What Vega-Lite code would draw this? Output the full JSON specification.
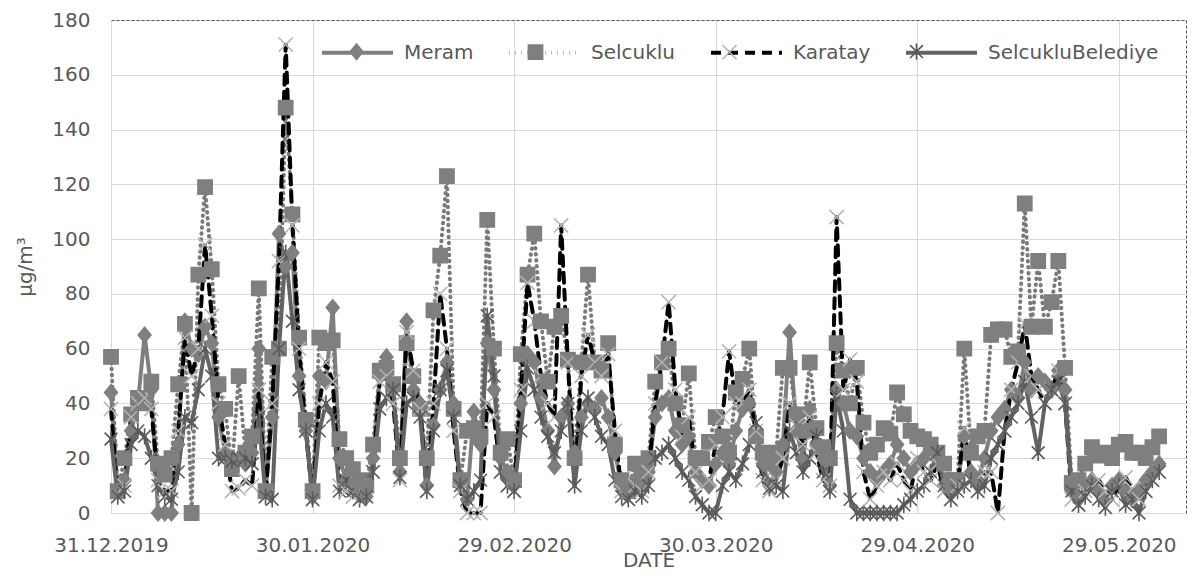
{
"$schema": "https://vega.github.io/schema/vega-lite/v6.json",
"width": 1075, "height": 493,
"autosize": {"type": "none"},
"padding": {"left": 111, "top": 20, "right": 10, "bottom": 60},
"background": "white",
"config": {
  "view": {"stroke": null},
  "font": "DejaVu Sans",
  "axis": {"labelFont": "DejaVu Sans", "labelFontSize": 20, "labelColor": "#595959", "titleFont": "DejaVu Sans", "titleFontSize": 20, "titleColor": "#595959", "titleFontWeight": "normal", "ticks": false, "gridColor": "#d9d9d9", "domainColor": "#d9d9d9", "labelFlush": false, "labelOverlap": false}
},
"data": {"values": [
{"date":"2019-12-31","Meram":44,"Selcuklu":57,"Karatay":38,"SelcukluBelediye":27},
{"date":"2020-01-01","Meram":8,"Selcuklu":8,"Karatay":6,"SelcukluBelediye":6},
{"date":"2020-01-02","Meram":12,"Selcuklu":20,"Karatay":10,"SelcukluBelediye":8},
{"date":"2020-01-03","Meram":30,"Selcuklu":36,"Karatay":35,"SelcukluBelediye":25},
{"date":"2020-01-04","Meram":40,"Selcuklu":42,"Karatay":40,"SelcukluBelediye":30},
{"date":"2020-01-05","Meram":65,"Selcuklu":40,"Karatay":42,"SelcukluBelediye":28},
{"date":"2020-01-06","Meram":45,"Selcuklu":48,"Karatay":38,"SelcukluBelediye":20},
{"date":"2020-01-07","Meram":0,"Selcuklu":18,"Karatay":12,"SelcukluBelediye":10},
{"date":"2020-01-08","Meram":0,"Selcuklu":14,"Karatay":8,"SelcukluBelediye":6},
{"date":"2020-01-09","Meram":0,"Selcuklu":20,"Karatay":8,"SelcukluBelediye":5},
{"date":"2020-01-10","Meram":25,"Selcuklu":47,"Karatay":30,"SelcukluBelediye":15},
{"date":"2020-01-11","Meram":70,"Selcuklu":69,"Karatay":64,"SelcukluBelediye":35},
{"date":"2020-01-12","Meram":60,"Selcuklu":0,"Karatay":50,"SelcukluBelediye":33},
{"date":"2020-01-13","Meram":58,"Selcuklu":87,"Karatay":60,"SelcukluBelediye":45},
{"date":"2020-01-14","Meram":68,"Selcuklu":119,"Karatay":98,"SelcukluBelediye":60},
{"date":"2020-01-15","Meram":62,"Selcuklu":89,"Karatay":72,"SelcukluBelediye":50},
{"date":"2020-01-16","Meram":35,"Selcuklu":47,"Karatay":40,"SelcukluBelediye":20},
{"date":"2020-01-17","Meram":22,"Selcuklu":38,"Karatay":25,"SelcukluBelediye":20},
{"date":"2020-01-18","Meram":20,"Selcuklu":16,"Karatay":8,"SelcukluBelediye":19},
{"date":"2020-01-19","Meram":20,"Selcuklu":50,"Karatay":9,"SelcukluBelediye":20},
{"date":"2020-01-20","Meram":18,"Selcuklu":22,"Karatay":12,"SelcukluBelediye":20},
{"date":"2020-01-21","Meram":22,"Selcuklu":28,"Karatay":10,"SelcukluBelediye":18},
{"date":"2020-01-22","Meram":60,"Selcuklu":82,"Karatay":45,"SelcukluBelediye":35},
{"date":"2020-01-23","Meram":8,"Selcuklu":8,"Karatay":6,"SelcukluBelediye":6},
{"date":"2020-01-24","Meram":35,"Selcuklu":57,"Karatay":40,"SelcukluBelediye":5},
{"date":"2020-01-25","Meram":102,"Selcuklu":60,"Karatay":92,"SelcukluBelediye":60},
{"date":"2020-01-26","Meram":90,"Selcuklu":148,"Karatay":171,"SelcukluBelediye":95},
{"date":"2020-01-27","Meram":95,"Selcuklu":109,"Karatay":105,"SelcukluBelediye":70},
{"date":"2020-01-28","Meram":50,"Selcuklu":64,"Karatay":60,"SelcukluBelediye":45},
{"date":"2020-01-29","Meram":30,"Selcuklu":34,"Karatay":30,"SelcukluBelediye":30},
{"date":"2020-01-30","Meram":6,"Selcuklu":8,"Karatay":5,"SelcukluBelediye":5},
{"date":"2020-01-31","Meram":50,"Selcuklu":64,"Karatay":40,"SelcukluBelediye":30},
{"date":"2020-02-01","Meram":48,"Selcuklu":62,"Karatay":55,"SelcukluBelediye":40},
{"date":"2020-02-02","Meram":75,"Selcuklu":63,"Karatay":48,"SelcukluBelediye":35},
{"date":"2020-02-03","Meram":20,"Selcuklu":27,"Karatay":10,"SelcukluBelediye":8},
{"date":"2020-02-04","Meram":12,"Selcuklu":20,"Karatay":8,"SelcukluBelediye":12},
{"date":"2020-02-05","Meram":10,"Selcuklu":16,"Karatay":6,"SelcukluBelediye":8},
{"date":"2020-02-06","Meram":8,"Selcuklu":12,"Karatay":5,"SelcukluBelediye":5},
{"date":"2020-02-07","Meram":6,"Selcuklu":10,"Karatay":6,"SelcukluBelediye":6},
{"date":"2020-02-08","Meram":20,"Selcuklu":25,"Karatay":15,"SelcukluBelediye":15},
{"date":"2020-02-09","Meram":50,"Selcuklu":52,"Karatay":48,"SelcukluBelediye":38},
{"date":"2020-02-10","Meram":57,"Selcuklu":53,"Karatay":50,"SelcukluBelediye":42},
{"date":"2020-02-11","Meram":45,"Selcuklu":47,"Karatay":40,"SelcukluBelediye":45},
{"date":"2020-02-12","Meram":15,"Selcuklu":20,"Karatay":12,"SelcukluBelediye":13},
{"date":"2020-02-13","Meram":70,"Selcuklu":62,"Karatay":66,"SelcukluBelediye":40},
{"date":"2020-02-14","Meram":45,"Selcuklu":50,"Karatay":52,"SelcukluBelediye":42},
{"date":"2020-02-15","Meram":40,"Selcuklu":38,"Karatay":38,"SelcukluBelediye":35},
{"date":"2020-02-16","Meram":10,"Selcuklu":20,"Karatay":8,"SelcukluBelediye":8},
{"date":"2020-02-17","Meram":32,"Selcuklu":74,"Karatay":40,"SelcukluBelediye":30},
{"date":"2020-02-18","Meram":45,"Selcuklu":94,"Karatay":80,"SelcukluBelediye":45},
{"date":"2020-02-19","Meram":55,"Selcuklu":123,"Karatay":60,"SelcukluBelediye":52},
{"date":"2020-02-20","Meram":40,"Selcuklu":38,"Karatay":30,"SelcukluBelediye":35},
{"date":"2020-02-21","Meram":10,"Selcuklu":12,"Karatay":8,"SelcukluBelediye":10},
{"date":"2020-02-22","Meram":5,"Selcuklu":30,"Karatay":0,"SelcukluBelediye":5},
{"date":"2020-02-23","Meram":37,"Selcuklu":31,"Karatay":0,"SelcukluBelediye":8},
{"date":"2020-02-24","Meram":25,"Selcuklu":28,"Karatay":0,"SelcukluBelediye":12},
{"date":"2020-02-25","Meram":62,"Selcuklu":107,"Karatay":40,"SelcukluBelediye":72},
{"date":"2020-02-26","Meram":45,"Selcuklu":60,"Karatay":35,"SelcukluBelediye":50},
{"date":"2020-02-27","Meram":20,"Selcuklu":22,"Karatay":15,"SelcukluBelediye":15},
{"date":"2020-02-28","Meram":15,"Selcuklu":27,"Karatay":10,"SelcukluBelediye":10},
{"date":"2020-02-29","Meram":10,"Selcuklu":12,"Karatay":8,"SelcukluBelediye":8},
{"date":"2020-03-01","Meram":40,"Selcuklu":58,"Karatay":45,"SelcukluBelediye":30},
{"date":"2020-03-02","Meram":58,"Selcuklu":87,"Karatay":84,"SelcukluBelediye":53},
{"date":"2020-03-03","Meram":55,"Selcuklu":102,"Karatay":70,"SelcukluBelediye":45},
{"date":"2020-03-04","Meram":42,"Selcuklu":70,"Karatay":50,"SelcukluBelediye":35},
{"date":"2020-03-05","Meram":30,"Selcuklu":48,"Karatay":40,"SelcukluBelediye":28},
{"date":"2020-03-06","Meram":17,"Selcuklu":68,"Karatay":35,"SelcukluBelediye":22},
{"date":"2020-03-07","Meram":35,"Selcuklu":72,"Karatay":105,"SelcukluBelediye":30},
{"date":"2020-03-08","Meram":40,"Selcuklu":56,"Karatay":55,"SelcukluBelediye":40},
{"date":"2020-03-09","Meram":22,"Selcuklu":20,"Karatay":10,"SelcukluBelediye":10},
{"date":"2020-03-10","Meram":35,"Selcuklu":55,"Karatay":50,"SelcukluBelediye":30},
{"date":"2020-03-11","Meram":40,"Selcuklu":87,"Karatay":65,"SelcukluBelediye":42},
{"date":"2020-03-12","Meram":38,"Selcuklu":55,"Karatay":55,"SelcukluBelediye":35},
{"date":"2020-03-13","Meram":42,"Selcuklu":52,"Karatay":50,"SelcukluBelediye":28},
{"date":"2020-03-14","Meram":35,"Selcuklu":62,"Karatay":58,"SelcukluBelediye":25},
{"date":"2020-03-15","Meram":22,"Selcuklu":25,"Karatay":30,"SelcukluBelediye":12},
{"date":"2020-03-16","Meram":10,"Selcuklu":12,"Karatay":8,"SelcukluBelediye":6},
{"date":"2020-03-17","Meram":8,"Selcuklu":8,"Karatay":5,"SelcukluBelediye":5},
{"date":"2020-03-18","Meram":12,"Selcuklu":18,"Karatay":10,"SelcukluBelediye":8},
{"date":"2020-03-19","Meram":10,"Selcuklu":14,"Karatay":8,"SelcukluBelediye":6},
{"date":"2020-03-20","Meram":15,"Selcuklu":20,"Karatay":15,"SelcukluBelediye":10},
{"date":"2020-03-21","Meram":35,"Selcuklu":48,"Karatay":40,"SelcukluBelediye":20},
{"date":"2020-03-22","Meram":40,"Selcuklu":55,"Karatay":55,"SelcukluBelediye":22},
{"date":"2020-03-23","Meram":42,"Selcuklu":60,"Karatay":77,"SelcukluBelediye":25},
{"date":"2020-03-24","Meram":30,"Selcuklu":40,"Karatay":45,"SelcukluBelediye":20},
{"date":"2020-03-25","Meram":25,"Selcuklu":32,"Karatay":28,"SelcukluBelediye":15},
{"date":"2020-03-26","Meram":28,"Selcuklu":51,"Karatay":35,"SelcukluBelediye":12},
{"date":"2020-03-27","Meram":15,"Selcuklu":20,"Karatay":15,"SelcukluBelediye":6},
{"date":"2020-03-28","Meram":12,"Selcuklu":20,"Karatay":10,"SelcukluBelediye":3},
{"date":"2020-03-29","Meram":10,"Selcuklu":26,"Karatay":12,"SelcukluBelediye":0},
{"date":"2020-03-30","Meram":18,"Selcuklu":35,"Karatay":25,"SelcukluBelediye":0},
{"date":"2020-03-31","Meram":22,"Selcuklu":28,"Karatay":35,"SelcukluBelediye":10},
{"date":"2020-04-01","Meram":18,"Selcuklu":22,"Karatay":59,"SelcukluBelediye":15},
{"date":"2020-04-02","Meram":30,"Selcuklu":44,"Karatay":40,"SelcukluBelediye":12},
{"date":"2020-04-03","Meram":38,"Selcuklu":49,"Karatay":40,"SelcukluBelediye":18},
{"date":"2020-04-04","Meram":40,"Selcuklu":60,"Karatay":45,"SelcukluBelediye":25},
{"date":"2020-04-05","Meram":30,"Selcuklu":28,"Karatay":30,"SelcukluBelediye":33},
{"date":"2020-04-06","Meram":18,"Selcuklu":22,"Karatay":12,"SelcukluBelediye":15},
{"date":"2020-04-07","Meram":10,"Selcuklu":18,"Karatay":8,"SelcukluBelediye":9},
{"date":"2020-04-08","Meram":15,"Selcuklu":22,"Karatay":12,"SelcukluBelediye":10},
{"date":"2020-04-09","Meram":25,"Selcuklu":53,"Karatay":20,"SelcukluBelediye":8},
{"date":"2020-04-10","Meram":66,"Selcuklu":53,"Karatay":40,"SelcukluBelediye":30},
{"date":"2020-04-11","Meram":30,"Selcuklu":36,"Karatay":32,"SelcukluBelediye":22},
{"date":"2020-04-12","Meram":20,"Selcuklu":30,"Karatay":25,"SelcukluBelediye":15},
{"date":"2020-04-13","Meram":38,"Selcuklu":55,"Karatay":35,"SelcukluBelediye":20},
{"date":"2020-04-14","Meram":25,"Selcuklu":31,"Karatay":22,"SelcukluBelediye":28},
{"date":"2020-04-15","Meram":20,"Selcuklu":24,"Karatay":12,"SelcukluBelediye":15},
{"date":"2020-04-16","Meram":10,"Selcuklu":20,"Karatay":10,"SelcukluBelediye":8},
{"date":"2020-04-17","Meram":45,"Selcuklu":62,"Karatay":108,"SelcukluBelediye":43},
{"date":"2020-04-18","Meram":40,"Selcuklu":52,"Karatay":45,"SelcukluBelediye":30},
{"date":"2020-04-19","Meram":30,"Selcuklu":40,"Karatay":56,"SelcukluBelediye":5},
{"date":"2020-04-20","Meram":28,"Selcuklu":53,"Karatay":48,"SelcukluBelediye":0},
{"date":"2020-04-21","Meram":20,"Selcuklu":33,"Karatay":15,"SelcukluBelediye":0},
{"date":"2020-04-22","Meram":15,"Selcuklu":22,"Karatay":5,"SelcukluBelediye":0},
{"date":"2020-04-23","Meram":12,"Selcuklu":25,"Karatay":10,"SelcukluBelediye":0},
{"date":"2020-04-24","Meram":15,"Selcuklu":31,"Karatay":15,"SelcukluBelediye":0},
{"date":"2020-04-25","Meram":18,"Selcuklu":29,"Karatay":12,"SelcukluBelediye":0},
{"date":"2020-04-26","Meram":25,"Selcuklu":44,"Karatay":18,"SelcukluBelediye":0},
{"date":"2020-04-27","Meram":20,"Selcuklu":36,"Karatay":12,"SelcukluBelediye":3},
{"date":"2020-04-28","Meram":15,"Selcuklu":30,"Karatay":8,"SelcukluBelediye":5},
{"date":"2020-04-29","Meram":18,"Selcuklu":28,"Karatay":20,"SelcukluBelediye":8},
{"date":"2020-04-30","Meram":20,"Selcuklu":27,"Karatay":15,"SelcukluBelediye":10},
{"date":"2020-05-01","Meram":22,"Selcuklu":25,"Karatay":12,"SelcukluBelediye":15},
{"date":"2020-05-02","Meram":20,"Selcuklu":22,"Karatay":18,"SelcukluBelediye":22},
{"date":"2020-05-03","Meram":10,"Selcuklu":18,"Karatay":8,"SelcukluBelediye":10},
{"date":"2020-05-04","Meram":8,"Selcuklu":12,"Karatay":5,"SelcukluBelediye":5},
{"date":"2020-05-05","Meram":10,"Selcuklu":12,"Karatay":10,"SelcukluBelediye":8},
{"date":"2020-05-06","Meram":28,"Selcuklu":60,"Karatay":31,"SelcukluBelediye":10},
{"date":"2020-05-07","Meram":15,"Selcuklu":22,"Karatay":12,"SelcukluBelediye":12},
{"date":"2020-05-08","Meram":12,"Selcuklu":28,"Karatay":8,"SelcukluBelediye":8},
{"date":"2020-05-09","Meram":20,"Selcuklu":30,"Karatay":15,"SelcukluBelediye":10},
{"date":"2020-05-10","Meram":30,"Selcuklu":65,"Karatay":15,"SelcukluBelediye":20},
{"date":"2020-05-11","Meram":35,"Selcuklu":67,"Karatay":0,"SelcukluBelediye":25},
{"date":"2020-05-12","Meram":38,"Selcuklu":67,"Karatay":30,"SelcukluBelediye":30},
{"date":"2020-05-13","Meram":45,"Selcuklu":57,"Karatay":45,"SelcukluBelediye":35},
{"date":"2020-05-14","Meram":42,"Selcuklu":59,"Karatay":55,"SelcukluBelediye":40},
{"date":"2020-05-15","Meram":55,"Selcuklu":113,"Karatay":69,"SelcukluBelediye":48},
{"date":"2020-05-16","Meram":45,"Selcuklu":68,"Karatay":50,"SelcukluBelediye":35},
{"date":"2020-05-17","Meram":50,"Selcuklu":92,"Karatay":45,"SelcukluBelediye":22},
{"date":"2020-05-18","Meram":48,"Selcuklu":68,"Karatay":40,"SelcukluBelediye":40},
{"date":"2020-05-19","Meram":45,"Selcuklu":77,"Karatay":45,"SelcukluBelediye":45},
{"date":"2020-05-20","Meram":52,"Selcuklu":92,"Karatay":52,"SelcukluBelediye":48},
{"date":"2020-05-21","Meram":45,"Selcuklu":53,"Karatay":40,"SelcukluBelediye":40},
{"date":"2020-05-22","Meram":8,"Selcuklu":11,"Karatay":5,"SelcukluBelediye":8},
{"date":"2020-05-23","Meram":5,"Selcuklu":12,"Karatay":3,"SelcukluBelediye":3},
{"date":"2020-05-24","Meram":10,"Selcuklu":18,"Karatay":8,"SelcukluBelediye":6},
{"date":"2020-05-25","Meram":12,"Selcuklu":24,"Karatay":10,"SelcukluBelediye":10},
{"date":"2020-05-26","Meram":8,"Selcuklu":21,"Karatay":12,"SelcukluBelediye":5},
{"date":"2020-05-27","Meram":5,"Selcuklu":22,"Karatay":8,"SelcukluBelediye":2},
{"date":"2020-05-28","Meram":10,"Selcuklu":20,"Karatay":5,"SelcukluBelediye":8},
{"date":"2020-05-29","Meram":12,"Selcuklu":25,"Karatay":10,"SelcukluBelediye":10},
{"date":"2020-05-30","Meram":8,"Selcuklu":26,"Karatay":13,"SelcukluBelediye":3},
{"date":"2020-05-31","Meram":5,"Selcuklu":22,"Karatay":9,"SelcukluBelediye":5},
{"date":"2020-06-01","Meram":8,"Selcuklu":22,"Karatay":5,"SelcukluBelediye":0},
{"date":"2020-06-02","Meram":12,"Selcuklu":20,"Karatay":8,"SelcukluBelediye":8},
{"date":"2020-06-03","Meram":15,"Selcuklu":24,"Karatay":12,"SelcukluBelediye":12},
{"date":"2020-06-04","Meram":18,"Selcuklu":28,"Karatay":15,"SelcukluBelediye":15}
]},
"transform": [{"fold": ["Meram", "Selcuklu", "Karatay", "SelcukluBelediye"], "as": ["series", "value"]}],
"layer": [
  {
    "mark": {"type": "line", "strokeWidth": 4, "strokeCap": "round", "strokeJoin": "round"},
    "encoding": {
      "x": {"field": "date", "type": "temporal",
        "scale": {"type": "utc", "domain": [{"year": 2019, "month": 12, "date": 31, "utc": true}, {"year": 2020, "month": 6, "date": 8, "utc": true}]},
        "axis": {"orient": "bottom", "title": "DATE", "titlePadding": -5, "format": "%d.%m.%Y", "labelPadding": 22, "grid": true,
          "values": [{"year": 2019, "month": 12, "date": 31, "utc": true}, {"year": 2020, "month": 1, "date": 30, "utc": true}, {"year": 2020, "month": 2, "date": 29, "utc": true}, {"year": 2020, "month": 3, "date": 30, "utc": true}, {"year": 2020, "month": 4, "date": 29, "utc": true}, {"year": 2020, "month": 5, "date": 29, "utc": true}]}},
      "y": {"field": "value", "type": "quantitative", "scale": {"domain": [0, 180]},
        "axis": {"orient": "left", "title": "µg/m³", "titlePadding": 16, "labelPadding": 21, "grid": true, "values": [0, 20, 40, 60, 80, 100, 120, 140, 160, 180]}},
      "stroke": {"field": "series", "type": "nominal",
        "scale": {"domain": ["Meram", "Selcuklu", "Karatay", "SelcukluBelediye"], "range": ["#7f7f7f", "#7a7a7a", "#000000", "#636363"]},
        "legend": {"orient": "none", "legendX": 209, "legendY": -5, "direction": "horizontal", "title": null, "symbolType": "stroke", "symbolSize": 5041, "symbolStrokeWidth": 4, "labelFont": "DejaVu Sans", "labelFontSize": 20, "labelLimit": 400, "labelColor": "#595959", "labelOffset": 9, "columnPadding": 27}},
      "strokeDash": {"field": "series", "type": "nominal",
        "scale": {"domain": ["Meram", "Selcuklu", "Karatay", "SelcukluBelediye"], "range": [[1, 0], [0.5, 5.5], [10, 7], [1, 0]]},
        "legend": {"orient": "none", "legendX": 209, "legendY": -5, "direction": "horizontal", "title": null, "symbolType": "stroke", "symbolSize": 5041, "symbolStrokeWidth": 4, "labelFont": "DejaVu Sans", "labelFontSize": 20, "labelLimit": 400, "labelColor": "#595959", "labelOffset": 9, "columnPadding": 27}}
    }
  },
  {
    "mark": {"type": "point", "filled": true, "opacity": 1, "size": 5041, "strokeWidth": 1.6},
    "encoding": {
      "x": {"field": "date", "type": "temporal",
        "scale": {"type": "utc", "domain": [{"year": 2019, "month": 12, "date": 31, "utc": true}, {"year": 2020, "month": 6, "date": 8, "utc": true}]},
        "axis": {"orient": "top", "title": null, "labels": false, "ticks": false, "grid": false, "domainColor": "#555555", "domainDash": [3, 2]}},
      "y": {"field": "value", "type": "quantitative", "scale": {"domain": [0, 180]},
        "axis": {"orient": "right", "title": null, "labels": false, "ticks": false, "grid": false, "domainColor": "#555555", "domainDash": [3, 2]}},
      "shape": {"field": "series", "type": "nominal",
        "scale": {"domain": ["Meram", "Selcuklu", "Karatay", "SelcukluBelediye"], "range": ["M0,-0.22L0.18,0L0,0.22L-0.18,0Z", "M-0.2,-0.2H0.2V0.2H-0.2Z", "M-0.2,-0.2L0.2,0.2M-0.2,0.2L0.2,-0.2", "M-0.18,-0.18L0.18,0.18M-0.18,0.18L0.18,-0.18M0,-0.23L0,0.23"]},
        "legend": {"orient": "none", "legendX": 209, "legendY": -5, "direction": "horizontal", "title": null, "symbolSize": 5041, "symbolStrokeWidth": 1.6, "labelFont": "DejaVu Sans", "labelFontSize": 20, "labelLimit": 400, "labelOpacity": 0, "labelOffset": 9, "columnPadding": 27}},
      "fill": {"field": "series", "type": "nominal",
        "scale": {"domain": ["Meram", "Selcuklu", "Karatay", "SelcukluBelediye"], "range": ["#7f7f7f", "#7f7f7f", "#b3b3b3", "#595959"]},
        "legend": {"orient": "none", "legendX": 209, "legendY": -5, "direction": "horizontal", "title": null, "symbolSize": 5041, "symbolStrokeWidth": 1.6, "labelFont": "DejaVu Sans", "labelFontSize": 20, "labelLimit": 400, "labelOpacity": 0, "labelOffset": 9, "columnPadding": 27}},
      "stroke": {"field": "series", "type": "nominal",
        "scale": {"domain": ["Meram", "Selcuklu", "Karatay", "SelcukluBelediye"], "range": ["#7f7f7f", "#7f7f7f", "#b3b3b3", "#595959"]},
        "legend": {"orient": "none", "legendX": 209, "legendY": -5, "direction": "horizontal", "title": null, "symbolSize": 5041, "symbolStrokeWidth": 1.6, "labelFont": "DejaVu Sans", "labelFontSize": 20, "labelLimit": 400, "labelOpacity": 0, "labelOffset": 9, "columnPadding": 27}}
    }
  }
],
"resolve": {"scale": {"stroke": "independent", "fill": "independent", "shape": "independent", "strokeDash": "independent"}, "axis": {"x": "independent", "y": "independent"}}
}
